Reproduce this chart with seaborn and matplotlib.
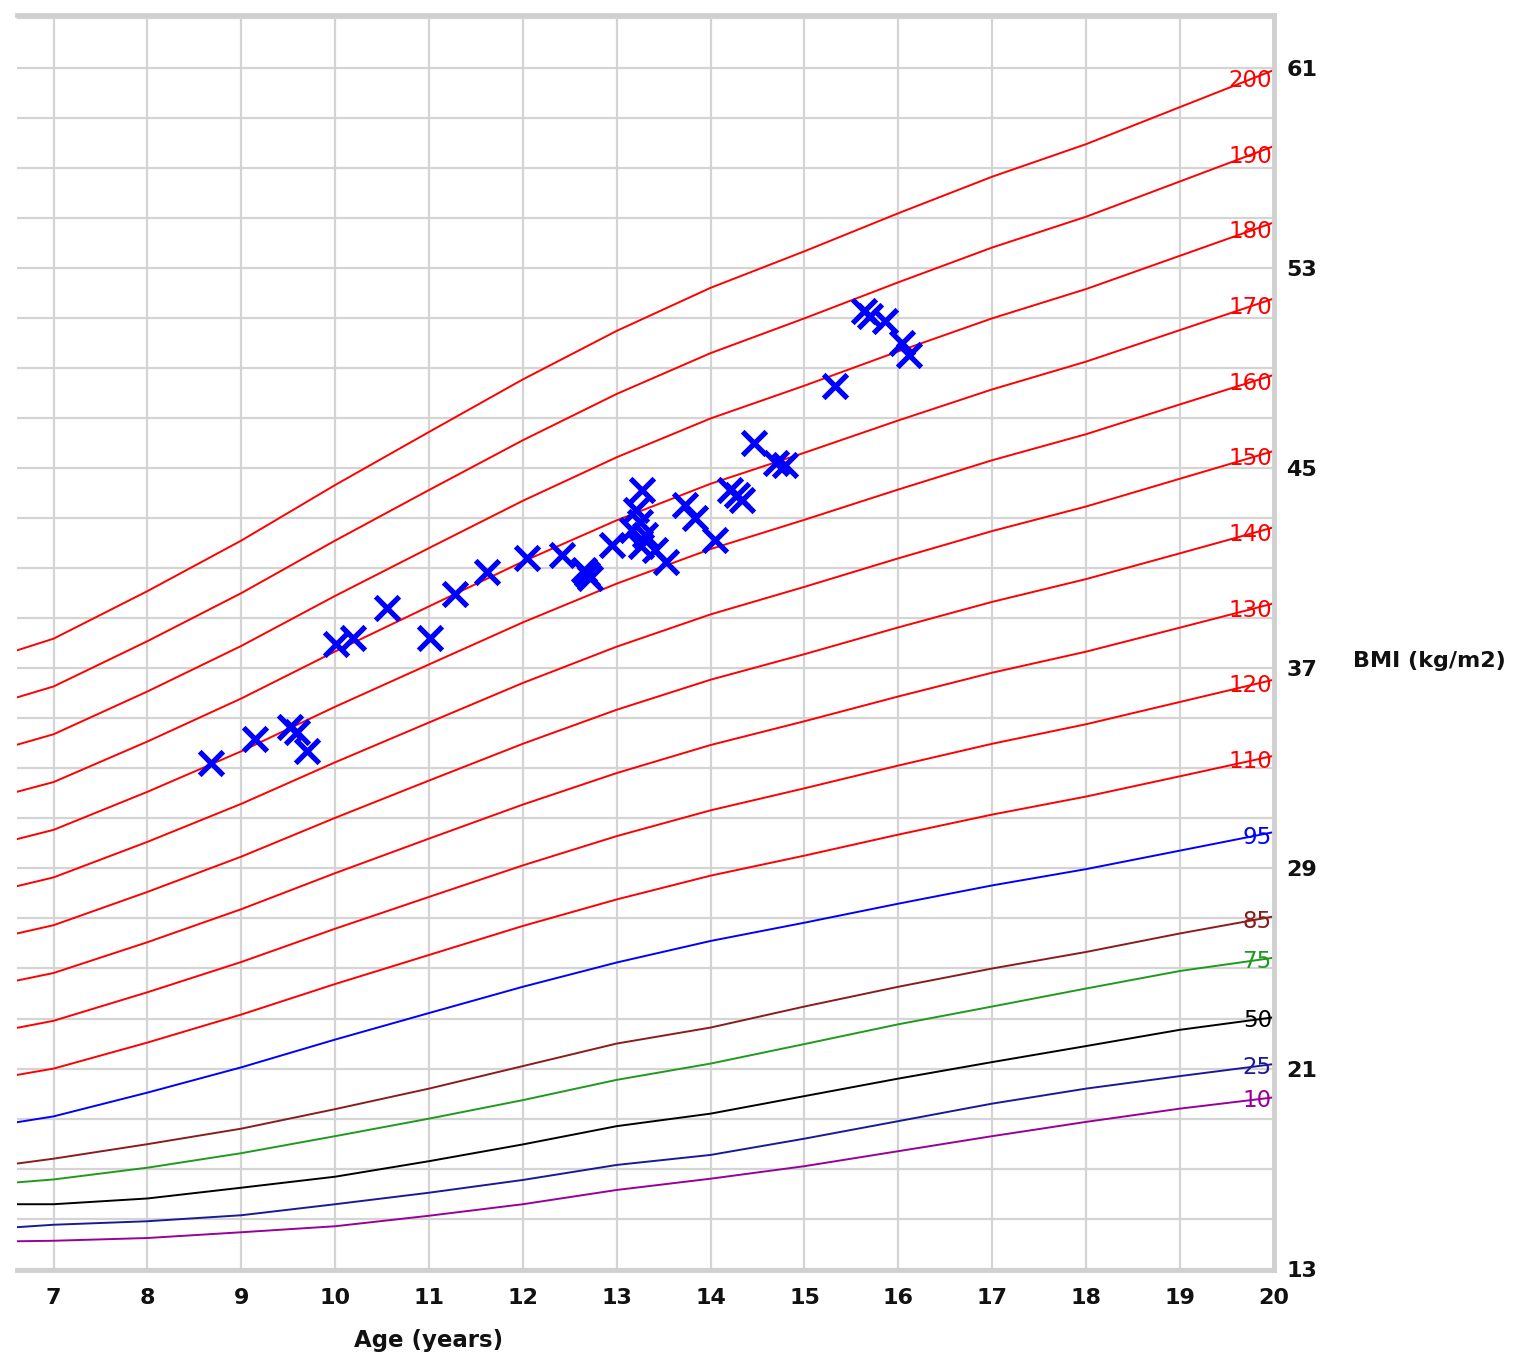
import numpy as np
import pandas as pd
import matplotlib
matplotlib.use("Agg")
import matplotlib.pyplot as plt
import matplotlib.transforms as mtransforms
import seaborn as sns

# ---------------- data ----------------
AGES = [6.6, 7, 8, 9, 10, 11, 12, 13, 14, 15, 16, 17, 18, 19, 20]

P10 = [14.10, 14.12, 14.23, 14.46, 14.70, 15.12, 15.58, 16.15, 16.60, 17.10, 17.70, 18.30, 18.87, 19.40, 19.85]
P25 = [14.66, 14.76, 14.90, 15.14, 15.58, 16.04, 16.55, 17.15, 17.55, 18.20, 18.90, 19.60, 20.20, 20.70, 21.18]
P50 = [15.58, 15.58, 15.81, 16.24, 16.68, 17.30, 17.97, 18.70, 19.20, 19.90, 20.60, 21.26, 21.90, 22.55, 23.05]
P75 = [16.45, 16.57, 17.04, 17.62, 18.30, 19.00, 19.74, 20.55, 21.20, 21.98, 22.77, 23.48, 24.20, 24.90, 25.43]
P85 = [17.20, 17.40, 17.98, 18.60, 19.38, 20.20, 21.10, 22.00, 22.64, 23.48, 24.27, 25.00, 25.66, 26.40, 27.08]
P95 = [18.85, 19.09, 20.04, 21.05, 22.16, 23.22, 24.27, 25.24, 26.10, 26.83, 27.59, 28.32, 28.97, 29.71, 30.45]

PCT110 = [20.74, 21.00, 22.04, 23.16, 24.38, 25.54, 26.70, 27.76, 28.71, 29.51, 30.35, 31.15, 31.87, 32.68, 33.50]
PCT120 = [22.62, 22.91, 24.05, 25.26, 26.59, 27.86, 29.12, 30.29, 31.32, 32.20, 33.11, 33.98, 34.76, 35.65, 36.54]
PCT130 = [24.51, 24.82, 26.05, 27.37, 28.81, 30.19, 31.55, 32.81, 33.93, 34.88, 35.87, 36.82, 37.66, 38.62, 39.59]
PCT140 = [26.39, 26.73, 28.06, 29.47, 31.02, 32.51, 33.98, 35.34, 36.54, 37.56, 38.63, 39.65, 40.56, 41.59, 42.63]
PCT150 = [28.28, 28.64, 30.06, 31.58, 33.24, 34.83, 36.41, 37.86, 39.15, 40.25, 41.39, 42.48, 43.46, 44.57, 45.68]
PCT160 = [30.16, 30.54, 32.06, 33.68, 35.46, 37.15, 38.83, 40.38, 41.76, 42.93, 44.14, 45.31, 46.35, 47.54, 48.72]
PCT170 = [32.05, 32.45, 34.07, 35.79, 37.67, 39.47, 41.26, 42.91, 44.37, 45.61, 46.90, 48.14, 49.25, 50.51, 51.77]
PCT180 = [33.93, 34.36, 36.07, 37.89, 39.89, 41.80, 43.69, 45.43, 46.98, 48.29, 49.66, 50.98, 52.15, 53.48, 54.81]
PCT190 = [35.82, 36.27, 38.08, 40.00, 42.10, 44.12, 46.11, 47.96, 49.59, 50.98, 52.42, 53.81, 55.04, 56.45, 57.86]
PCT200 = [37.70, 38.18, 40.08, 42.10, 44.32, 46.44, 48.54, 50.48, 52.20, 53.66, 55.18, 56.64, 57.94, 59.42, 60.90]

CURVE_LABELS = ["10", "25", "50", "75", "85", "95",
                "110", "120", "130", "140", "150", "160", "170", "180", "190", "200"]

SCATTER_AGE = [8.68, 9.15, 9.52, 9.59, 9.70, 10.01, 10.19, 10.55, 11.01, 11.28,
               11.62, 12.04, 12.42, 12.65, 12.71, 12.68, 12.95, 13.16, 13.21, 13.25,
               13.27, 13.26, 13.41, 13.52, 13.73, 13.83, 14.05, 14.21, 14.28, 14.33,
               14.46, 14.70, 14.79, 15.33, 15.63, 15.70, 15.86, 16.04, 16.11, 13.30]
SCATTER_BMI = [33.20, 34.16, 34.66, 34.46, 33.70, 37.97, 38.20, 39.40, 38.22, 39.97,
               40.85, 41.39, 41.53, 40.93, 40.61, 40.77, 41.93, 42.53, 43.33, 42.85,
               44.13, 41.89, 41.73, 41.25, 43.53, 43.00, 42.13, 44.13, 43.93, 43.73,
               46.00, 45.20, 45.13, 48.26, 51.26, 51.09, 50.86, 50.00, 49.53, 42.33]

X_TICKS = list(range(7, 21))
Y_TICKS = [13, 21, 29, 37, 45, 53, 61]

# ---------------- styling ----------------
RED = "#ff0000"
CURVE_COLORS = {
    "10": "#990099", "25": "#1a1a99", "50": "#000000", "75": "#1f9a1f",
    "85": "#8b1c1c", "95": "#0000ff",
}
for lab in CURVE_LABELS[6:]:
    CURVE_COLORS[lab] = RED

sns.set_theme(style="white")
plt.rcParams["font.family"] = ["DejaVu Sans"]

curves = dict(zip(CURVE_LABELS, [P10, P25, P50, P75, P85, P95, PCT110, PCT120, PCT130,
                                 PCT140, PCT150, PCT160, PCT170, PCT180, PCT190, PCT200]))
df = pd.DataFrame([{"age": a, "bmi": b, "curve": k}
                   for k, v in curves.items() for a, b in zip(AGES, v)])

fig = plt.figure(figsize=(15.16, 13.55), dpi=100)
ax = fig.add_axes([0.0112, 0.0627, 0.8290, 0.9262])

sns.lineplot(data=df, x="age", y="bmi", hue="curve", hue_order=CURVE_LABELS,
             palette=CURVE_COLORS, linewidth=1.4, legend=False, estimator=None,
             ax=ax, zorder=2)

sns.scatterplot(x=SCATTER_AGE, y=SCATTER_BMI, marker="x", s=290, color="#0000ff",
                linewidth=3.8, ax=ax, zorder=5, legend=False)

# curve labels at right end
for lab in CURVE_LABELS:
    yv = float(np.interp(19.72, AGES, curves[lab]))
    ax.text(19.98, yv, lab, color=CURVE_COLORS[lab], ha="right", va="center",
            fontsize=16.5, zorder=4)

ax.set_xlim(6.61, 20)
ax.set_ylim(12.95, 63.1)
ax.set_xticks(X_TICKS)
ax.set_xticklabels([str(t) for t in X_TICKS])
ax.set_yticks(Y_TICKS)
ax.set_yticklabels([str(t) for t in Y_TICKS])
ax.set_yticks(np.arange(13, 64, 2), minor=True)
ax.yaxis.tick_right()
ax.grid(True, which="both", axis="both", color="#d4d4d4", linewidth=1.6)
ax.set_axisbelow(True)
ax.tick_params(axis="both", which="both", length=0)
ax.tick_params(axis="x", pad=13, labelsize=16)
ax.tick_params(axis="y", pad=9, labelsize=16)
for t in ax.get_xticklabels() + ax.get_yticklabels():
    t.set_fontweight("bold")
    t.set_color("#111111")

ax.set_xlabel("")
ax.set_ylabel("")
for side in ["top", "right", "bottom"]:
    ax.spines[side].set_color("#d0d0d0")
    ax.spines[side].set_linewidth(3.5)
ax.spines["left"].set_visible(False)

ax.text(11.0, -0.056, "Age (years)",
        transform=mtransforms.blended_transform_factory(ax.transData, ax.transAxes),
        ha="center", va="center", fontsize=16.5, fontweight="bold", color="#111111")
ax.text(1.063, 37.3, "BMI (kg/m2)",
        transform=mtransforms.blended_transform_factory(ax.transAxes, ax.transData),
        ha="left", va="center", fontsize=16, fontweight="bold", color="#111111")

fig.savefig("out.png", dpi=100)
